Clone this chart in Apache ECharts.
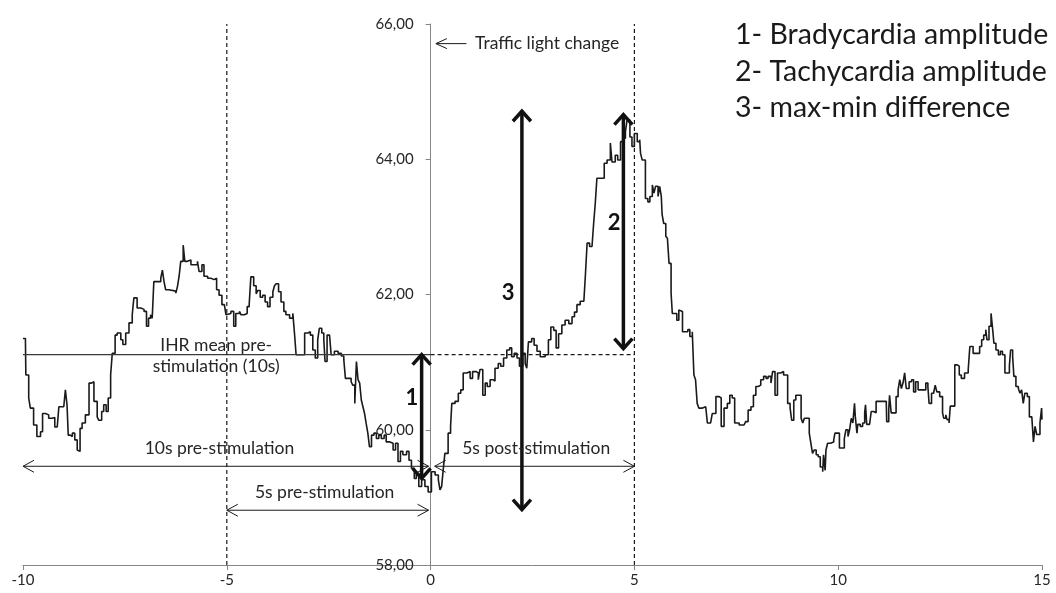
<!DOCTYPE html>
<html style="height: 100%">
<head>
	<meta charset="utf-8">
</head>
<body style="height: 100%; margin: 0; background: #fff">
<div id="container" style="width: 1056px; height: 593px"></div>
<script type="text/javascript" src="https://cdn.jsdelivr.net/npm/echarts@6/dist/echarts.min.js"></script>
<script type="text/javascript">
    // time (s) relative to the traffic light change
    var times = [
        -10.00, -9.94, -9.93, -9.86, -9.82, -9.74, -9.66, -9.57, -9.52, -9.45, -9.37, -9.29, -9.22, -9.16, -9.12, -9.00,
        -8.96, -8.92, -8.89, -8.84, -8.79, -8.73, -8.67, -8.63, -8.60, -8.55, -8.47, -8.38, -8.32, -8.26, -8.18, -8.14,
        -8.07, -8.02, -7.96, -7.91, -7.85, -7.81, -7.74, -7.69, -7.60, -7.55, -7.48, -7.40, -7.32, -7.28, -7.20, -7.11,
        -7.03, -6.97, -6.92, -6.87, -6.83, -6.79, -6.62, -6.58, -6.54, -6.50, -6.42, -6.25, -6.21, -6.17, -6.13, -6.07,
        -6.03, -5.97, -5.88, -5.72, -5.68, -5.61, -5.56, -5.47, -5.39, -5.31, -5.25, -5.19, -5.12, -5.06, -5.02,
        -4.98, -4.90, -4.83, -4.78, -4.69, -4.65, -4.57, -4.50, -4.45, -4.41, -4.34, -4.28, -4.24, -4.18, -4.12, -4.06,
        -4.00, -3.94, -3.87, -3.83, -3.79, -3.73, -3.67, -3.60, -3.55, -3.46, -3.38, -3.34, -3.30, -3.09, -3.01, -2.95,
        -2.89, -2.83, -2.77, -2.73, -2.67, -2.62, -2.59, -2.54, -2.48, -2.44, -2.36, -2.27, -2.19, -2.13, -2.09, -1.95,
        -1.91, -1.86, -1.82, -1.78, -1.74, -1.70, -1.66, -1.62, -1.58, -1.54, -1.50, -1.45, -1.39, -1.33, -1.27, -1.21,
        -1.14, -1.09, -1.00, -0.92, -0.86, -0.80, -0.74, -0.68, -0.59, -0.53, -0.47, -0.40, -0.35, -0.29, -0.22, -0.14,
        -0.06, 0.02, 0.11, 0.19, 0.23, 0.27, 0.31, 0.35, 0.43, 0.49, 0.52, 0.60, 0.68, 0.74, 0.80, 0.89,
        0.97, 1.03, 1.12, 1.17, 1.21, 1.28, 1.34, 1.39, 1.46, 1.53, 1.58, 1.66, 1.72, 1.79, 1.87, 1.94,
        1.99, 2.05, 2.12, 2.18, 2.26, 2.32, 2.36, 2.40, 2.48, 2.54, 2.61, 2.69, 2.81, 2.89, 2.95, 3.02,
        3.08, 3.14, 3.22, 3.30, 3.39, 3.47, 3.53, 3.59, 3.67, 3.76, 3.80, 3.84, 3.90, 3.96, 4.00, 4.04,
        4.08, 4.26, 4.33, 4.41, 4.45, 4.53, 4.59, 4.66, 4.72, 4.78, 4.82, 4.89, 4.94, 5.00, 5.07, 5.13,
        5.15, 5.19, 5.27, 5.33, 5.38, 5.44, 5.48, 5.52, 5.58, 5.62, 5.66, 5.68, 5.72, 5.77, 5.81, 5.85,
        5.90, 5.93, 6.04, 6.09, 6.13, 6.18, 6.31, 6.36, 6.42, 6.46, 6.50, 6.54, 6.58, 6.67, 6.75, 6.79,
        6.87, 6.91, 7.00, 7.08, 7.13, 7.20, 7.28, 7.34, 7.40, 7.46, 7.57, 7.69, 7.73, 7.79, 7.86, 7.92,
        7.98, 8.04, 8.10, 8.17, 8.23, 8.28, 8.35, 8.39, 8.45, 8.51, 8.59, 8.66, 8.76, 8.82, 8.86, 8.91,
        8.96, 9.09, 9.13, 9.17, 9.29, 9.33, 9.37, 9.41, 9.46, 9.51, 9.56, 9.62, 9.64, 9.68, 9.70, 9.74,
        9.81, 9.89, 9.92, 10.03, 10.15, 10.19, 10.24, 10.28, 10.32, 10.36, 10.40, 10.42, 10.46, 10.48, 10.54, 10.60,
        10.65, 10.67, 10.70, 10.77, 10.81, 10.87, 10.93, 11.18, 11.19, 11.24, 11.26, 11.30, 11.42, 11.47, 11.51, 11.55,
        11.59, 11.63, 11.67, 11.74, 11.80, 11.85, 11.90, 11.96, 12.10, 12.15, 12.20, 12.23, 12.29, 12.34, 12.38, 12.42,
        12.49, 12.56, 12.59, 12.64, 12.67, 12.72, 12.75, 12.86, 12.92, 12.97, 13.02, 13.10, 13.19, 13.23, 13.31, 13.47,
        13.52, 13.57, 13.62, 13.65, 13.70, 13.75, 13.79, 13.82, 13.87, 13.93, 13.98, 14.03, 14.09, 14.20, 14.23, 14.28,
        14.31, 14.36, 14.42, 14.46, 14.50, 14.54, 14.58, 14.64, 14.69, 14.75, 14.79, 14.83, 14.87, 14.95, 14.99, 15.00
    ];
    // instantaneous heart rate (bpm)
    var ihr = [
        61.35, 61.30, 60.81, 60.47, 60.32, 60.07, 59.90, 59.97, 60.24, 60.22, 60.17, 60.18, 60.04, 60.02, 60.34, 60.34,
        60.59, 60.37, 59.92, 59.90, 59.95, 59.85, 59.70, 59.68, 60.02, 60.10, 60.22, 60.69, 60.71, 60.42, 60.19, 60.14,
        60.27, 60.37, 60.27, 60.47, 60.81, 61.13, 61.40, 61.43, 61.33, 61.26, 61.43, 61.58, 61.70, 61.95, 61.80, 61.78,
        61.75, 61.53, 61.65, 61.70, 61.65, 62.19, 62.24, 62.36, 62.19, 62.07, 62.05, 62.02, 62.12, 62.27, 62.49, 62.73,
        62.49, 62.51, 62.44, 62.49, 62.34, 62.44, 62.27, 62.24, 62.22, 62.24, 62.07, 61.99, 61.85, 61.87, 61.70,
        61.72, 61.75, 61.53, 61.72, 61.75, 61.70, 61.72, 61.82, 61.86, 62.26, 62.13, 62.01, 62.06, 61.96, 61.99, 61.89,
        61.82, 61.96, 62.04, 62.13, 62.16, 62.04, 61.89, 61.75, 61.70, 61.65, 61.72, 61.43, 61.11, 61.43, 61.45, 61.40,
        61.18, 61.06, 61.33, 61.50, 61.43, 61.33, 61.01, 61.40, 61.38, 61.11, 61.16, 61.13, 61.09, 61.04, 60.76, 60.71,
        60.66, 60.39, 61.01, 60.74, 60.69, 60.44, 60.34, 60.24, 60.09, 59.95, 59.75, 59.92, 59.95, 59.87, 59.92, 59.87,
        59.92, 59.82, 59.80, 59.70, 59.80, 59.53, 59.68, 59.63, 59.68, 59.55, 59.43, 59.28, 59.35, 59.16, 59.26, 59.16,
        59.08, 59.38, 59.33, 59.26, 59.11, 59.16, 59.41, 59.65, 59.95, 60.05, 60.39, 60.42, 60.54, 60.59, 60.84, 60.86,
        60.76, 60.86, 60.84, 60.74, 60.89, 60.51, 60.69, 60.64, 60.74, 60.72, 60.91, 60.98, 60.94, 61.06, 61.18, 61.21,
        61.08, 61.13, 61.06, 60.94, 61.13, 60.98, 60.91, 61.30, 61.35, 61.25, 61.16, 61.08, 61.11, 61.33, 61.52, 61.47,
        61.21, 61.42, 61.55, 61.62, 61.57, 61.67, 61.74, 61.85, 61.90, 61.92, 62.31, 62.76, 62.71, 62.73, 63.05, 63.35,
        63.72, 63.94, 63.99, 64.24, 63.96, 64.06, 63.99, 64.26, 64.31, 64.41, 64.58, 64.33, 64.19, 64.38, 64.26, 64.29,
        64.09, 63.99, 63.42, 63.37, 63.45, 63.62, 63.50, 63.60, 63.45, 63.60, 63.45, 63.18, 63.05, 62.86, 62.83, 62.46,
        62.02, 61.72, 61.62, 61.77, 61.75, 61.45, 61.48, 61.38, 61.45, 60.81, 60.74, 60.39, 60.32, 60.34, 60.32, 60.10,
        60.12, 60.24, 60.49, 60.47, 60.05, 60.32, 60.39, 60.51, 60.47, 60.10, 60.07, 60.05, 60.12, 60.29, 60.34, 60.51,
        60.64, 60.66, 60.74, 60.79, 60.76, 60.79, 60.69, 60.86, 60.51, 60.84, 60.86, 60.81, 60.39, 60.32, 60.14, 60.44,
        60.51, 60.17, 60.10, 60.17, 59.95, 59.80, 59.65, 59.70, 59.63, 59.60, 59.45, 59.38, 59.63, 59.40, 59.70, 59.80,
        59.82, 59.85, 59.95, 59.73, 59.87, 60.00, 59.90, 60.00, 60.17, 60.10, 60.39, 60.19, 59.95, 60.08, 60.05, 60.10,
        60.25, 60.37, 60.08, 60.10, 60.27, 60.25, 60.42, 60.39, 60.12, 60.30, 60.51, 60.25, 60.49, 60.59, 60.74, 60.61,
        60.69, 60.84, 60.61, 60.71, 60.74, 60.56, 60.71, 60.59, 60.59, 60.69, 60.64, 60.39, 60.54, 60.56, 60.66, 60.56,
        60.49, 60.25, 60.17, 60.22, 60.15, 60.10, 60.35, 60.96, 60.94, 60.81, 60.76, 60.84, 60.89, 61.23, 61.13, 61.23,
        61.33, 61.40, 61.48, 61.33, 61.53, 61.72, 61.48, 61.28, 61.18, 61.11, 61.16, 61.11, 60.84, 60.94, 61.18, 61.08,
        60.79, 60.64, 60.61, 60.54, 60.59, 60.39, 60.54, 60.49, 60.19, 60.17, 59.82, 60.05, 59.93, 60.10, 60.32, 60.15
    ];
    var xTicks = [-10, -5, 0, 5, 10, 15];
    var yTicks = [58, 60, 62, 64, 66];
    var ihrMeanPre = 61.11;
    var legendLines = ['1- Bradycardia amplitude', '2- Tachycardia amplitude', '3- max-min difference'];

    var FONT = 'Lato, "Open Sans", sans-serif';
    var INK = '#1a1a1a';
    var TXT = '#262626';

    var W = 1056, GL = 23, GR = 14;
    var xMin = xTicks[0], xMax = xTicks[xTicks.length - 1];
    // vertical axis crosses the time axis at 0
    var yAxisShift = (0 - xMin) / (xMax - xMin) * (W - GL - GR);

    var dom = document.getElementById("container");
    var myChart = echarts.init(dom, null, { renderer: 'canvas' });

    var series = [];
    for (var i = 0; i < times.length; i++) {
        series.push([times[i], ihr[i]]);
    }

    var option = {
        backgroundColor: '#ffffff',
        animation: false,
        textStyle: { fontFamily: FONT },
        grid: { left: GL, right: GR, top: 24, bottom: 28, outerBoundsMode: 'none' },
        xAxis: {
            type: 'value',
            min: xMin,
            max: xMax,
            interval: 5,
            splitLine: { show: false },
            axisLine: { lineStyle: { color: '#868686', width: 1 } },
            axisTick: { show: true, length: 5, lineStyle: { color: '#868686' } },
            axisLabel: { color: TXT, fontSize: 15, fontFamily: FONT, margin: 8 }
        },
        yAxis: {
            type: 'value',
            position: 'left',
            offset: -yAxisShift,
            min: yTicks[0],
            max: yTicks[yTicks.length - 1],
            interval: 2,
            splitLine: { show: false },
            axisLine: { show: true, onZero: false, lineStyle: { color: '#868686', width: 1 } },
            axisTick: { show: true, length: 5, lineStyle: { color: '#868686' } },
            axisLabel: {
                color: TXT, fontSize: 15, fontFamily: FONT, margin: 17,
                formatter: function (v) { return v.toFixed(2).replace('.', ','); }
            }
        },
        series: [{
            type: 'line',
            data: series,
            step: 'end',
            showSymbol: false,
            lineStyle: { color: INK, width: 1.6 },
            z: 3
        }]
    };

    myChart.setOption(option, true);

    function px(x, y) {
        return myChart.convertToPixel({ gridIndex: 0 }, [x, y]);
    }

    // line between two data points, with optional open arrow heads
    function arrow(a, b, o) {
        var p = px(a[0], a[1]), q = px(b[0], b[1]);
        var els = [];
        els.push({
            type: 'line', silent: true, z: 10,
            shape: { x1: p[0], y1: p[1], x2: q[0], y2: q[1] },
            style: { stroke: o.color || INK, lineWidth: o.width || 1, lineDash: o.dash || null }
        });
        var dx = q[0] - p[0], dy = q[1] - p[1];
        var L = Math.sqrt(dx * dx + dy * dy);
        var ux = dx / L, uy = dy / L, nx = -uy, ny = ux;
        function head(t, sx, sy) {
            return {
                type: 'polyline', silent: true, z: 10,
                shape: { points: [
                    [t[0] - sx * o.len + nx * o.half, t[1] - sy * o.len + ny * o.half],
                    [t[0], t[1]],
                    [t[0] - sx * o.len - nx * o.half, t[1] - sy * o.len - ny * o.half]
                ] },
                style: { stroke: o.color || INK, lineWidth: o.width || 1, fill: null, lineJoin: 'miter' }
            };
        }
        if (o.end) els.push(head(q, ux, uy));
        if (o.start) els.push(head(p, -ux, -uy));
        return els;
    }

    function label(x, y, text, o) {
        var p = px(x, y);
        return {
            type: 'text', silent: true, z: 11, x: p[0], y: p[1],
            style: {
                text: text, fill: o.color || TXT,
                font: (o.weight || 'normal') + ' ' + o.size + 'px ' + FONT,
                textAlign: o.align || 'center', textVerticalAlign: 'middle'
            }
        };
    }

    var thin = { width: 1, len: 11, half: 6, start: true, end: true };
    var thick = { width: 3.5, len: 10, half: 9, start: true, end: true, color: '#111' };
    var dashed = { width: 1.2, len: 0, half: 0, dash: [4, 3] };

    var g = [];
    // reference lines
    g = g.concat(arrow([-10, ihrMeanPre], [0, ihrMeanPre], { width: 1.2, len: 0, half: 0, color: '#3a3a3a' }));
    g = g.concat(arrow([0, ihrMeanPre], [5, ihrMeanPre], dashed));
    g = g.concat(arrow([-5, 58], [-5, 66], dashed));
    g = g.concat(arrow([5, 58], [5, 66], dashed));
    // time windows
    g = g.concat(arrow([-10, 59.46], [-0.05, 59.46], thin));
    g = g.concat(arrow([-5, 58.81], [-0.05, 58.81], thin));
    g = g.concat(arrow([0.1, 59.46], [5, 59.46], thin));
    // amplitudes
    g = g.concat(arrow([-0.22, 59.28], [-0.22, ihrMeanPre], thick));
    g = g.concat(arrow([4.73, 61.2], [4.73, 64.66], thick));
    g = g.concat(arrow([2.24, 58.82], [2.24, 64.71], thick));
    // traffic light marker
    g = g.concat(arrow([0.88, 65.71], [0.13, 65.71], { width: 1, len: 11, half: 5, end: true }));

    var LS = 17.5;
    g.push(label(1.09, 65.71, 'Traffic light change', { size: LS, align: 'left' }));
    g.push(label(-5.26, 61.25, 'IHR mean pre-', { size: LS }));
    g.push(label(-5.26, 60.93, 'stimulation (10s)', { size: LS }));
    g.push(label(-5.18, 59.73, '10s pre-stimulation', { size: LS }));
    g.push(label(-2.6, 59.08, '5s pre-stimulation', { size: LS }));
    g.push(label(2.59, 59.73, '5s post-stimulation', { size: LS }));
    g.push(label(-0.46, 60.47, '1', { size: 22, weight: 'bold', color: '#111' }));
    g.push(label(4.5, 63.06, '2', { size: 22, weight: 'bold', color: '#111' }));
    g.push(label(1.90, 62.03, '3', { size: 22, weight: 'bold', color: '#111' }));
    var legendY = [65.84, 65.29, 64.76];
    for (var k = 0; k < legendLines.length; k++) {
        g.push(label(7.47, legendY[k], legendLines[k], { size: 28.5, align: 'left', color: '#1a1a1a' }));
    }

    myChart.setOption({ graphic: { elements: g } });
</script>
</body>
</html>
